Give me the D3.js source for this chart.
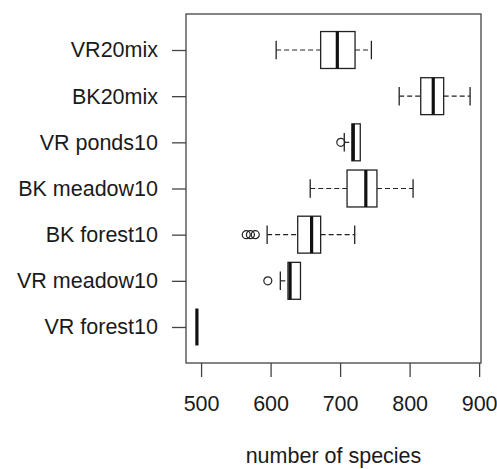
<html>
  <head>
    <script src="https://cdn.jsdelivr.net/npm/d3@7"></script>
    <style>
      body { margin: 0; background: #fff; }
      text { font-family: "Liberation Sans", Arial, sans-serif; fill: #1a1a1a; }
    </style>
  </head>
  <body>
    <script>
      // groups, listed bottom to top as R draws them
      const categories = ["VR forest10", "VR meadow10", "BK forest10", "BK meadow10", "VR ponds10", "BK20mix", "VR20mix"];
      const whiskerLow  = [494, 614, 595, 657, 706, 785, 608];
      const q1          = [494, 625, 639, 710, 717, 816, 672];
      const median      = [494, 628, 659, 737, 719, 834, 696];
      const q3          = [494, 643, 672, 753, 729, 849, 721.5];
      const whiskerHigh = [494, 643, 721, 805, 729, 887, 745];
      const outliers    = [[], [596], [565, 571, 578], [], [701], [], []];
      const xTicks = [500, 600, 700, 800, 900];

      const width = 497, height = 469;
      const plotLeft = 186, plotRight = 481, plotTop = 14, plotBottom = 363;

      const svg = d3.select("body").append("svg")
          .attr("width", width)
          .attr("height", height);

      const x = d3.scaleLinear().domain([478.3, 902.7]).range([plotLeft, plotRight]);
      // positions 1..n with R's 4% padding
      const y = d3.scaleLinear().domain([0.22, categories.length + 0.78]).range([plotBottom, plotTop]);
      const boxH = y(0) - y(0.8);
      const stapleH = boxH / 2;

      const data = categories.map((c, i) => ({
        name: c, pos: i + 1,
        lo: whiskerLow[i], q1: q1[i], med: median[i], q3: q3[i], hi: whiskerHigh[i],
        out: outliers[i]
      }));

      const g = svg.append("g").selectAll("g").data(data).join("g")
          .attr("transform", d => `translate(0,${y(d.pos)})`);

      const ink = "#222";

      // whiskers
      g.append("line")
          .attr("x1", d => x(d.lo)).attr("x2", d => x(d.q1))
          .attr("stroke", ink).attr("stroke-width", 1.2).attr("stroke-dasharray", "5,3");
      g.append("line")
          .attr("x1", d => x(d.q3)).attr("x2", d => x(d.hi))
          .attr("stroke", ink).attr("stroke-width", 1.2).attr("stroke-dasharray", "5,3");
      // staples
      g.filter(d => d.lo < d.q1).append("line")
          .attr("x1", d => x(d.lo)).attr("x2", d => x(d.lo))
          .attr("y1", -stapleH / 2).attr("y2", stapleH / 2)
          .attr("stroke", ink).attr("stroke-width", 1.3);
      g.filter(d => d.hi > d.q3).append("line")
          .attr("x1", d => x(d.hi)).attr("x2", d => x(d.hi))
          .attr("y1", -stapleH / 2).attr("y2", stapleH / 2)
          .attr("stroke", ink).attr("stroke-width", 1.3);

      // boxes
      g.append("rect")
          .attr("x", d => x(d.q1))
          .attr("width", d => x(d.q3) - x(d.q1))
          .attr("y", -boxH / 2).attr("height", boxH)
          .attr("fill", "#fff").attr("stroke", ink).attr("stroke-width", 1.3);

      // medians
      g.append("line")
          .attr("x1", d => x(d.med)).attr("x2", d => x(d.med))
          .attr("y1", -boxH / 2).attr("y2", boxH / 2)
          .attr("stroke", "#111").attr("stroke-width", 3.2);

      // outliers
      g.selectAll("circle").data(d => d.out).join("circle")
          .attr("cx", d => x(d)).attr("r", 4)
          .attr("fill", "none").attr("stroke", ink).attr("stroke-width", 1.2);

      // plot frame
      svg.append("rect")
          .attr("x", plotLeft).attr("y", plotTop)
          .attr("width", plotRight - plotLeft).attr("height", plotBottom - plotTop)
          .attr("fill", "none").attr("stroke", "#444").attr("stroke-width", 1.3);

      // x axis
      const xAxis = svg.append("g")
          .attr("transform", `translate(0,${plotBottom})`)
          .call(d3.axisBottom(x).tickValues(xTicks).tickSize(14).tickPadding(19));
      xAxis.select(".domain").remove();
      xAxis.selectAll("line").attr("stroke", "#444").attr("stroke-width", 1.3);
      xAxis.selectAll("text").attr("fill", "#1a1a1a").style("font-size", "21.5px")
          .style("font-family", "'Liberation Sans', Arial, sans-serif");

      // y axis
      const yAxis = svg.append("g")
          .attr("transform", `translate(${plotLeft},0)`)
          .call(d3.axisLeft(y).tickValues(data.map(d => d.pos))
            .tickFormat(p => categories[p - 1]).tickSize(14).tickPadding(14));
      yAxis.select(".domain").remove();
      yAxis.selectAll("line").attr("stroke", "#444").attr("stroke-width", 1.3);
      yAxis.selectAll("text").attr("fill", "#1a1a1a").style("font-size", "21.5px")
          .style("font-family", "'Liberation Sans', Arial, sans-serif");

      // axis title
      svg.append("text")
          .attr("x", (plotLeft + plotRight) / 2).attr("y", 463)
          .attr("text-anchor", "middle")
          .style("font-size", "21.5px")
          .text("number of species");
    </script>
  </body>
</html>
